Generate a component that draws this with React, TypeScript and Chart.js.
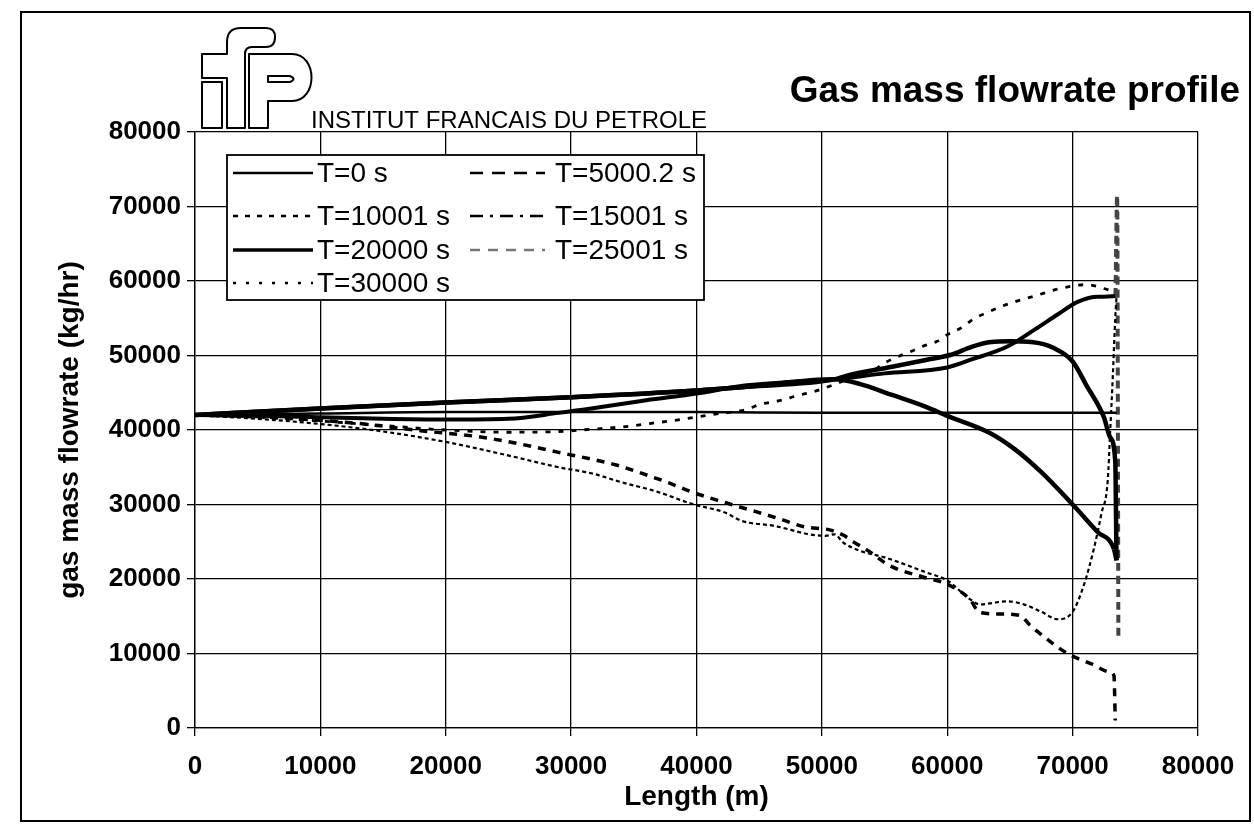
import { useEffect, useRef } from "react";
import { Chart, registerables } from "chart.js";

Chart.register(...registerables);

const FONT = "'Liberation Sans', Arial, Helvetica, sans-serif";

// ---- tick / axis configuration ----
const X_MIN = 0;
const X_MAX = 80000;
const Y_MIN = 0;
const Y_MAX = 80000;
const TICK_STEP = 10000;

// ---- series labels ----
const SERIES_LABELS = [
  "T=0 s",
  "T=5000.2 s",
  "T=10001 s",
  "T=15001 s",
  "T=20000 s",
  "T=25001 s",
  "T=30000 s",
];

// ---- series values (Length in m, gas mass flowrate in kg/hr) ----
const t0X = [0, 10000, 20000, 30000, 40000, 50000, 60000, 70000, 73500];
const t0Y = [42000, 42200, 42400, 42400, 42400, 42300, 42300, 42300, 42300];

const t5000X = [0, 5000, 10000, 13500, 18000, 22600, 26000, 29000, 31600, 33600, 35600, 37800, 39600, 41800, 43800, 46400, 48600, 50600, 51700, 52500, 53600, 55400, 58000, 60000, 61800, 62600, 64500, 65800, 66600, 67600, 68600, 69800, 71500, 73000, 73300, 73400];
const t5000Y = [42000, 41800, 41300, 40800, 39900, 39100, 38100, 37000, 36100, 35300, 34200, 32900, 31700, 30500, 29500, 28200, 27000, 26600, 25900, 25000, 23900, 21800, 20300, 19300, 17300, 15500, 15300, 15100, 13800, 12400, 11100, 9800, 8600, 7500, 7000, 1000];

const t10001X = [0, 5000, 10000, 14600, 20000, 25200, 29000, 31600, 34000, 36900, 39600, 42300, 43600, 46300, 49000, 50300, 51000, 51700, 53000, 55000, 58300, 60000, 61800, 62600, 64800, 66100, 67500, 68800, 70000, 70900, 71700, 72300, 72800, 73000, 73200, 73400, 73500];
const t10001Y = [42000, 41500, 40800, 39900, 38400, 36500, 35000, 34200, 33000, 31700, 30100, 28900, 27800, 27100, 26000, 25800, 26000, 24900, 23800, 22900, 20900, 19800, 17300, 16600, 17000, 16600, 15600, 14600, 15600, 19200, 24100, 28800, 33200, 40000, 47000, 55000, 57800];

const t15001X = [0, 10000, 20000, 30000, 40000, 44000, 51000, 53000, 55600, 58300, 60000, 63400, 65400, 67400, 70000, 72000, 73300, 73500];
const t15001Y = [42000, 42900, 43700, 44400, 45300, 45800, 46800, 46200, 44700, 43100, 41900, 39600, 37400, 34500, 30000, 26300, 24000, 22500];

const t20000X = [0, 10000, 20000, 30000, 40000, 44000, 51000, 52000, 55600, 58300, 60300, 62000, 63500, 65000, 66700, 68500, 70000, 71100, 72500, 73000, 73400, 73500];
const t20000Y = [42000, 42900, 43700, 44400, 45300, 45800, 46800, 47300, 48500, 49400, 50100, 51200, 51800, 51900, 51800, 51000, 49200, 46000, 41700, 39000, 35800, 22500];

const t25001X = [0, 5000, 10000, 15000, 20000, 25000, 29000, 32000, 36000, 40000, 44000, 48000, 51000, 55000, 60000, 62000, 64800, 67000, 68800, 70400, 72000, 73400, 73550, 73650];
const t25001Y = [42000, 41900, 41700, 41500, 41400, 41500, 42300, 43000, 44000, 44900, 46000, 46500, 46800, 47600, 48400, 49500, 51200, 53500, 55500, 57200, 57900, 58000, 71500, 12000];

const t30000X = [0, 5000, 10000, 15000, 20000, 25000, 29000, 31600, 34600, 36400, 38300, 40200, 41800, 43900, 45000, 46800, 48000, 49000, 50000, 53000, 54100, 55000, 56000, 57200, 58000, 59200, 60000, 61200, 62000, 63200, 65000, 67000, 69000, 71000, 72500, 73300, 73500];
const t30000Y = [42000, 41700, 41200, 40600, 40000, 39700, 39800, 40100, 40500, 40900, 41300, 41800, 42200, 42700, 43400, 44000, 44600, 45000, 45500, 47400, 48000, 49000, 49800, 50600, 51200, 51900, 52800, 53800, 54800, 55800, 57000, 58000, 59000, 59500, 59000, 58300, 57800];

const SERIES_X = [t0X, t5000X, t10001X, t15001X, t20000X, t25001X, t30000X];
const SERIES_Y = [t0Y, t5000Y, t10001Y, t15001Y, t20000Y, t25001Y, t30000Y];

// ---- styles (plot line + legend sample) ----
type Style = {
  width: number;
  dash: number[];
  solidBody: boolean;
  steepColor: string;
  legendDash: number[];
  legendWidth: number;
  legendColor: string;
};
const STYLES: Style[] = [
  { width: 2.5, dash: [], solidBody: false, steepColor: "#000", legendDash: [], legendWidth: 2.5, legendColor: "#000" },
  { width: 3.5, dash: [8, 7], solidBody: false, steepColor: "#000", legendDash: [13, 9], legendWidth: 2.5, legendColor: "#000" },
  { width: 2.2, dash: [4, 3], solidBody: false, steepColor: "#000", legendDash: [5, 7], legendWidth: 2.5, legendColor: "#000" },
  { width: 4.5, dash: [12, 6, 3, 6], solidBody: true, steepColor: "#000", legendDash: [13, 7, 3, 7], legendWidth: 2.5, legendColor: "#000" },
  { width: 4.5, dash: [], solidBody: false, steepColor: "#000", legendDash: [], legendWidth: 3.5, legendColor: "#000" },
  { width: 4, dash: [8, 5], solidBody: true, steepColor: "#444", legendDash: [10, 8], legendWidth: 2.5, legendColor: "#777" },
  { width: 2.8, dash: [5, 8], solidBody: false, steepColor: "#000", legendDash: [3, 10], legendWidth: 2.5, legendColor: "#000" },
];

const decorPlugin = {
  id: "decor",
  beforeDraw(chart: any) {
    const ctx = chart.ctx as CanvasRenderingContext2D;
    ctx.save();
    ctx.fillStyle = "#fff";
    ctx.fillRect(0, 0, chart.width, chart.height);
    ctx.restore();
  },
  afterDraw(chart: any) {
    const ctx = chart.ctx as CanvasRenderingContext2D;
    ctx.save();
    // outer frame
    ctx.strokeStyle = "#000";
    ctx.lineWidth = 2;
    ctx.strokeRect(21, 12, 1229, 809);

    // logo (outlined letters i f P)
    ctx.lineWidth = 2;
    ctx.lineJoin = "round";
    ctx.beginPath();
    ctx.rect(202, 82, 20, 46);
    ctx.stroke();
    ctx.beginPath();
    ctx.moveTo(202, 54);
    ctx.lineTo(227, 54);
    ctx.lineTo(227, 42);
    ctx.quadraticCurveTo(227, 28, 241, 28);
    ctx.lineTo(266, 28);
    ctx.quadraticCurveTo(275, 28, 275, 37);
    ctx.quadraticCurveTo(275, 47, 266, 47);
    ctx.lineTo(252, 47);
    ctx.quadraticCurveTo(245, 47, 245, 54);
    ctx.lineTo(245, 128);
    ctx.lineTo(227, 128);
    ctx.lineTo(227, 78);
    ctx.lineTo(202, 78);
    ctx.closePath();
    ctx.stroke();
    ctx.beginPath();
    ctx.moveTo(249, 54);
    ctx.lineTo(292, 54);
    ctx.bezierCurveTo(318, 54, 318, 101, 292, 101);
    ctx.lineTo(268, 101);
    ctx.lineTo(268, 128);
    ctx.lineTo(249, 128);
    ctx.closePath();
    ctx.stroke();
    ctx.beginPath();
    ctx.moveTo(268, 76);
    ctx.lineTo(290, 76);
    ctx.quadraticCurveTo(297, 79, 290, 82);
    ctx.lineTo(268, 82);
    ctx.closePath();
    ctx.stroke();

    // texts
    ctx.fillStyle = "#000";
    ctx.textBaseline = "middle";
    ctx.textAlign = "left";
    ctx.font = `24px ${FONT}`;
    ctx.fillText("INSTITUT FRANCAIS DU PETROLE", 311, 121);
    ctx.textAlign = "right";
    ctx.font = `bold 37px ${FONT}`;
    ctx.fillText("Gas mass flowrate profile", 1240, 92);
    ctx.restore();
  },
};

const boxLegendPlugin = {
  id: "boxLegend",
  afterDatasetsDraw(chart: any) {
    const ctx = chart.ctx as CanvasRenderingContext2D;
    const rows = [173, 216, 250, 283];
    ctx.save();
    ctx.fillStyle = "#fff";
    ctx.fillRect(227, 155, 477, 145);
    ctx.strokeStyle = "#000";
    ctx.lineWidth = 1.8;
    ctx.strokeRect(227, 155, 477, 145);
    chart.data.datasets.forEach((ds: any, i: number) => {
      const st = STYLES[i];
      const col = i % 2;
      const y = rows[Math.floor(i / 2)];
      const x0 = col === 0 ? 233 : 470;
      const x1 = col === 0 ? 313 : 545;
      ctx.setLineDash(st.legendDash);
      ctx.lineWidth = st.legendWidth;
      ctx.strokeStyle = st.legendColor;
      ctx.beginPath();
      ctx.moveTo(x0, y);
      ctx.lineTo(x1, y);
      ctx.stroke();
      ctx.setLineDash([]);
      ctx.fillStyle = "#000";
      ctx.font = `28px ${FONT}`;
      ctx.textBaseline = "middle";
      ctx.textAlign = "left";
      ctx.fillText(ds.label, col === 0 ? 317 : 555, y + 1);
    });
    ctx.restore();
  },
};

export default function App() {
  const canvasRef = useRef<HTMLCanvasElement | null>(null);

  useEffect(() => {
    document.body.style.margin = "0";
    const canvas = canvasRef.current;
    if (!canvas) return;

    const datasets = SERIES_LABELS.map((label, i) => {
      const st = STYLES[i];
      const isSteep = (c: any) => {
        const dx = Math.abs(c.p1.x - c.p0.x);
        const dy = Math.abs(c.p1.y - c.p0.y);
        return dy > 4 * dx;
      };
      return {
        label,
        data: SERIES_X[i].map((x, k) => ({ x, y: SERIES_Y[i][k] })),
        borderColor: "#000",
        backgroundColor: "#000",
        borderWidth: st.width,
        borderDash: st.dash,
        pointRadius: 0,
        pointHoverRadius: 0,
        fill: false,
        cubicInterpolationMode: "monotone" as const,
        segment: {
          borderDash: (c: any) => {
            if (!st.solidBody) return undefined;
            return isSteep(c) ? st.dash : [];
          },
          borderColor: (c: any) => {
            if (!st.solidBody) return undefined;
            return isSteep(c) ? st.steepColor : "#000";
          },
        },
      };
    });

    const tickFont = { family: FONT, size: 26, weight: "bold" as const };
    const titleFont = { family: FONT, size: 28, weight: "bold" as const };

    const chart = new Chart(canvas, {
      type: "line",
      data: { datasets },
      options: {
        animation: false,
        responsive: false,
        devicePixelRatio: 1,
        events: [],
        layout: { padding: { left: 49, right: 56, top: 132, bottom: 17 } },
        plugins: {
          legend: { display: false },
          title: { display: false },
          tooltip: { enabled: false },
        },
        scales: {
          x: {
            type: "linear",
            min: X_MIN,
            max: X_MAX,
            ticks: {
              stepSize: TICK_STEP,
              font: tickFont,
              color: "#000",
              padding: 15,
              maxRotation: 0,
              autoSkip: false,
              callback: (v: any) => String(v),
            },
            grid: { color: "#000", lineWidth: 1.3, tickLength: 8 },
            border: { color: "#000", width: 1.3 },
            title: {
              display: true,
              text: "Length (m)",
              font: titleFont,
              color: "#000",
              padding: { top: 0, bottom: 5 },
            },
            afterFit: (s: any) => {
              s.height = 91;
            },
          },
          y: {
            type: "linear",
            min: Y_MIN,
            max: Y_MAX,
            ticks: {
              stepSize: TICK_STEP,
              font: tickFont,
              color: "#000",
              padding: 6,
              autoSkip: false,
              callback: (v: any) => String(v),
            },
            grid: { color: "#000", lineWidth: 1.3, tickLength: 8 },
            border: { color: "#000", width: 1.3 },
            title: {
              display: true,
              text: "gas mass flowrate (kg/hr)",
              font: titleFont,
              color: "#000",
              padding: { top: 4, bottom: 0 },
            },
            afterFit: (s: any) => {
              s.width = 146;
            },
          },
        },
      },
      plugins: [decorPlugin, boxLegendPlugin],
    });

    return () => {
      chart.destroy();
    };
  }, []);

  return (
    <div style={{ position: "fixed", left: 0, top: 0, width: 1254, height: 836, background: "#fff" }}>
      <canvas ref={canvasRef} width={1254} height={836} style={{ display: "block" }} />
    </div>
  );
}
